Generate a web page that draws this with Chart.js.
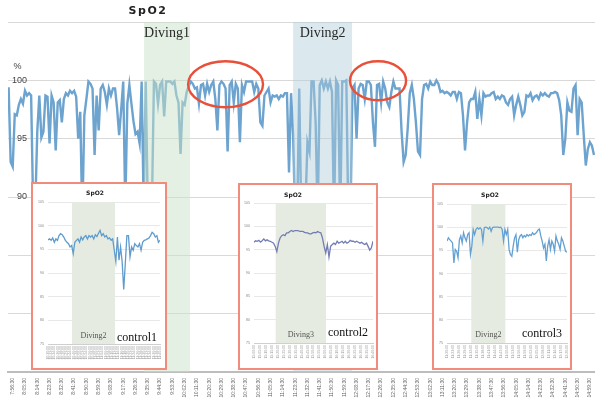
<!DOCTYPE html>
<html>
<head>
<meta charset="utf-8">
<script src="https://cdn.jsdelivr.net/npm/chart.js@4.4.1/dist/chart.umd.min.js"></script>
<style>
  html, body { margin: 0; padding: 0; background: #fff; }
  #wrap { position: relative; width: 595px; height: 399px; overflow: hidden; }
  #main { position: absolute; left: 0; top: 0; }
  .inset { position: absolute; border: 2px solid #f08c7c; background: #fff; box-sizing: border-box; }
  .inset canvas { position: absolute; left: 0; top: 0; }
</style>
</head>
<body>
<div id="wrap">
  <canvas id="main" width="595" height="399" style="width:595px;height:399px"></canvas>
  <div class="inset" style="left:31px;top:182px;width:136px;height:188px">
    <canvas id="ins1" width="132" height="184" style="width:132px;height:184px"></canvas>
  </div>
  <div class="inset" style="left:238px;top:183px;width:140px;height:187px">
    <canvas id="ins2" width="136" height="183" style="width:136px;height:183px"></canvas>
  </div>
  <div class="inset" style="left:432px;top:183px;width:140px;height:187px">
    <canvas id="ins3" width="136" height="183" style="width:136px;height:183px"></canvas>
  </div>
</div>
<script>
// main SpO2 trace, one reading every 1.5 min starting 7:53:30
const mainSpo2 = [
  99.4, 93.0, 92.6, 97.1, 97.0, 97.9, 98.4, 98.0, 99.1, 98.7,
  98.9, 98.7, 89, 89, 95.6, 98.7, 95.1, 95.6, 98.7, 98.6,
  94.6, 98.7, 98.1, 94.0, 98.1, 98.3, 96.4, 98.4, 98.9, 98.7,
  99.1, 98.9, 99.1, 98.6, 95.0, 97.3, 88, 97.0, 98.4, 99.9,
  99.7, 99.3, 93.6, 98.7, 95.7, 99.3, 99.6, 99.0, 97.9, 99.3,
  98.7, 99.3, 99.3, 97.6, 95.3,
  97.5, 99.9, 89, 98.0, 99.6, 98.0, 96.5, 95.4, 95.6, 94.6, 99.9, 89,
  99.9, 89, 89, 89, 99.9, 99.7, 98.0, 99.6, 99.9, 96.9,
  99.9, 99.9, 99.9, 99.7, 99.9, 98.7, 98.1, 93.7, 98.1, 97.9, 99.0, 99.5,
  99.9, 99.7, 99.3, 99.4, 98.0, 99.6, 99.7, 98.7, 99.7, 99.0,
  99.6, 99.9, 98.4, 95.7, 99.6, 99.9, 99.7, 99.3, 93.9, 99.6,
  99.9, 98.1, 99.7, 99.3, 94.7,
  99.6, 99.0, 99.9, 99.9, 99.9, 99.9, 99.0, 99.7, 99.3, 96.4,
  96.1, 98.7, 99.0, 99.3, 98.1, 98.7, 98.6, 98.7, 98.4, 98.7,
  98.6, 98.9, 98.9, 92.1, 98.9, 95.3, 88,
  88, 99.3, 88, 88, 89, 94.7, 93.9, 99.9, 99.9, 96.4,
  88, 99.6, 100, 99.3, 99.9, 99.3, 99.9, 99.0, 88, 100,
  99.6, 88, 99.9, 99.9, 100, 88, 88, 99.3, 99.6, 95.0,
  99.3, 99.7, 99.6, 98.4, 99.9, 99.9, 99.6, 96.4, 94.3, 99.6,
  99.7, 98.1, 99.9, 99.3, 98.1, 97.7, 99.0, 99.9, 99.3, 99.3,
  99.3, 95.6, 93.0, 93.6, 95.9, 98.9, 99.6, 98.4, 96.4, 93.9,
  93.6, 98.4, 99.6, 99.7, 99.3, 99.9, 99.6, 99.6, 100, 99.7,
  99.0, 99.1, 98.9, 99.0, 98.9, 98.7, 99.0, 99.0, 98.4, 99.0,
  98.9, 97.0, 94.0, 96.4, 98.1, 98.4, 98.4, 99.0,
  96.7, 98.4, 97.0, 98.9, 98.6, 98.7, 98.7, 98.9, 99.0, 98.4,
  98.6, 98.4, 98.7, 98.6, 98.1, 97.9, 98.4, 98.6, 97.0, 97.9,
  98.6, 97.9, 97.0, 97.3, 98.7, 98.6, 98.9, 98.3, 98.6, 98.7,
  98.4, 98.9, 98.7, 98.9, 98.7, 98.6, 98.9, 98.9, 99.0, 98.9,
  98.3, 97.0, 93.6, 95.0, 98.1, 97.4, 97.3, 99.3, 99.6, 95.3,
  98.4, 98.1, 95.3, 92.7, 94.1, 94.7, 94.4, 93.6
];
const mainTicks = ['7:56:30', '8:05:30', '8:14:30', '8:23:30', '8:32:30', '8:41:30', '8:50:30', '8:59:30',
  '9:08:30', '9:17:30', '9:26:30', '9:35:30', '9:44:30', '9:53:30', '10:02:30', '10:11:30',
  '10:20:30', '10:29:30', '10:38:30', '10:47:30', '10:56:30', '11:05:30', '11:14:30', '11:23:30',
  '11:32:30', '11:41:30', '11:50:30', '11:59:30', '12:08:30', '12:17:30', '12:26:30', '12:35:30',
  '12:44:30', '12:53:30', '13:02:30', '13:11:30', '13:20:30', '13:29:30', '13:38:30', '13:47:30',
  '13:56:30', '14:05:30', '14:14:30', '14:23:30', '14:32:30', '14:41:30', '14:50:30', '14:59:30'];
const samplesPerTick = 6;
const firstTickSample = 2;

// dive periods (in sample index)
const divingNames = ['Diving1', 'Diving2'];
const divingFrom = [66.2, 139.0];
const divingTo = [88.6, 167.8];

// red circled stretches (sample index / % centre, half sizes)
const circledX = [106, 180.5];
const circledY = [99.66, 99.96];
const circledHalfW = [18.3, 13.7];
const circledHalfH = [1.97, 1.67];

// control insets
const control1 = [97.0, 97.2, 96.9, 97.4, 96.5, 97.2, 96.9, 97.9, 98.3, 98.1,
  97.6, 96.9, 96.5, 96.2, 95.5, 95.8, 94.1, 96.5, 96.9, 97.2,
  96.5, 97.6, 97.0, 97.6, 97.9, 97.2, 97.9, 97.6, 97.9, 97.2,
  98.1, 97.7, 98.4, 99.0, 97.9, 98.3, 97.6, 97.9, 97.2, 97.4,
  96.9, 97.2, 94.8, 92.4, 97.6, 92.7, 95.5, 92.4, 86.5, 92.0,
  97.9, 97.9, 93.4, 95.5, 94.8, 96.2, 95.8, 95.5, 96.2, 94.8,
  96.5, 96.9, 97.0, 97.2, 97.4, 97.9, 98.6, 98.3, 97.6, 97.9,
  96.5, 96.9];
const control2 = [96.6, 96.9, 96.8, 97.0, 96.6, 96.9, 97.3, 96.9, 97.1, 96.9,
  96.8, 96.6, 96.4, 95.7, 94.6, 96.4, 97.5, 98.0, 98.2, 98.0,
  98.6, 98.6, 98.9, 99.1, 98.9, 99.1, 99.1, 99.1, 98.9, 98.9,
  98.9, 98.7, 98.6, 98.6, 98.4, 98.4, 98.6, 98.7, 98.6, 98.9,
  98.7, 98.6, 97.5, 95.7, 94.3, 96.1, 93.4, 95.7, 96.1, 96.4,
  96.1, 96.8, 96.4, 96.6, 96.8, 96.4, 96.8, 96.4, 96.6, 97.0,
  96.8, 96.8, 96.6, 96.8, 96.6, 96.4, 96.6, 96.3, 96.1, 96.4,
  95.7, 94.9, 95.4, 96.8];
const control3 = [97.0, 97.7, 97.3, 97.0, 96.6, 92.3, 95.2, 94.8, 93.4, 97.3,
  98.1, 96.6, 98.8, 97.7, 97.0, 98.4, 98.8, 94.1, 95.9, 99.5,
  98.4, 99.5, 99.9, 99.6, 99.9, 99.5, 97.0, 99.9, 100, 99.9,
  99.6, 100, 99.1, 99.9, 100, 100, 100, 100, 99.9, 100,
  99.5, 97.0, 99.5, 98.4, 99.5, 95.2, 94.1, 93.7, 95.9, 97.7,
  98.4, 94.6, 97.3, 98.1, 98.4, 97.7, 98.2, 97.9, 98.4, 98.1,
  98.4, 98.2, 98.8, 98.4, 98.6, 98.9, 99.4, 99.6, 98.1, 97.0,
  95.5, 96.3, 92.7, 95.9, 97.3, 95.2, 97.0, 96.3, 94.8, 98.1,
  97.0, 96.3, 95.2, 97.7, 97.0, 95.9, 94.8, 94.6];
const control1Ticks = ['10:30:00', '10:32:00', '10:34:00', '10:36:00', '10:38:00', '10:40:00', '10:42:00', '10:44:00', '10:46:00',
  '10:48:00', '10:50:00', '10:52:00', '10:54:00', '10:56:00', '10:58:00', '11:00:00', '11:02:00', '11:04:00',
  '11:06:00', '11:08:00', '11:10:00', '11:12:00', '11:14:00', '11:16:00', '11:18:00', '11:20:00', '11:22:00',
  '11:24:00', '11:26:00', '11:28:00', '11:30:00', '11:32:00', '11:34:00', '11:36:00', '11:38:00', '11:40:00'];
const control2Ticks = ['15:00:00', '15:05:00', '15:10:00', '15:15:00', '15:20:00', '15:25:00', '15:30:00', '15:35:00',
  '15:40:00', '15:45:00', '15:50:00', '15:55:00', '16:00:00', '16:05:00', '16:10:00', '16:15:00', '16:20:00',
  '16:25:00', '16:30:00', '16:35:00', '16:40:00'];
const control3Ticks = ['11:20:00', '11:23:00', '11:26:00', '11:29:00', '11:32:00', '11:35:00', '11:38:00', '11:41:00',
  '11:44:00', '11:47:00', '11:50:00', '11:53:00', '11:56:00', '11:59:00', '12:02:00', '12:05:00', '12:08:00',
  '12:11:00', '12:14:00', '12:17:00', '12:20:00'];
// dive period inside each inset (sample index)
const control1Dive = [15.2, 42.5];
const control2Dive = [13.3, 44.2];
const control3Dive = [17.6, 42.3];

const mainMarks = {
  id: 'mainMarks',
  afterDatasetsDraw(chart) {
    const { ctx, chartArea: a, scales: { x, y } } = chart;
    const shades = ['rgba(200,225,200,0.5)', 'rgba(175,205,215,0.45)'];
    ctx.save();
    divingNames.forEach((name, i) => {
      const x0 = x.getPixelForValue(divingFrom[i]);
      const x1 = x.getPixelForValue(divingTo[i]);
      ctx.fillStyle = shades[i];
      ctx.fillRect(x0, a.top, x1 - x0, a.bottom - a.top);
      ctx.fillStyle = '#2a2a2a';
      ctx.font = '14px "Liberation Serif"';
      ctx.textAlign = 'center';
      ctx.textBaseline = 'middle';
      ctx.fillText(name, (x0 + x1) / 2, a.top + 11);
    });
    ctx.strokeStyle = '#e8503a';
    ctx.lineWidth = 2.4;
    circledX.forEach((cx, i) => {
      const px = x.getPixelForValue(cx);
      const py = y.getPixelForValue(circledY[i]);
      const rx = x.getPixelForValue(cx + circledHalfW[i]) - px;
      const ry = py - y.getPixelForValue(circledY[i] + circledHalfH[i]);
      ctx.beginPath();
      ctx.ellipse(px, py, rx, ry, 0, 0, Math.PI * 2);
      ctx.stroke();
    });
    ctx.restore();
  },
  afterDraw(chart) {
    const ctx = chart.ctx;
    ctx.save();
    ctx.fillStyle = '#222';
    ctx.font = 'bold 11px "DejaVu Sans"';
    ctx.letterSpacing = '1.5px';
    ctx.textAlign = 'center';
    ctx.textBaseline = 'middle';
    ctx.fillText('SpO2', 148, 11);
    ctx.letterSpacing = '0px';
    ctx.font = '9px "Liberation Sans"';
    ctx.fillStyle = '#444';
    ctx.fillText('%', 17.5, 67);
    ctx.restore();
  }
};

new Chart(document.getElementById('main'), {
  type: 'line',
  data: {
    datasets: [{
      data: mainSpo2.map((v, i) => ({ x: i, y: v })),
      borderColor: 'rgb(108,163,207)',
      borderWidth: 2.4,
      pointRadius: 0,
      tension: 0
    }]
  },
  options: {
    responsive: false,
    animation: false,
    events: [],
    layout: { padding: { top: 22, left: 0, right: 0, bottom: 0 } },
    plugins: { legend: { display: false }, tooltip: { enabled: false } },
    scales: {
      x: {
        type: 'linear',
        min: -0.3,
        max: 286.5,
        grid: { display: false, drawTicks: false },
        border: { color: '#bdbdbd', width: 2, dash: [2, 1] },
        afterBuildTicks: s => {
          s.ticks = mainTicks.map((t, i) => ({ value: firstTickSample + i * samplesPerTick }));
        },
        ticks: {
          autoSkip: false,
          minRotation: 90,
          maxRotation: 90,
          padding: 6,
          color: '#666',
          font: { size: 5, family: 'Liberation Sans' },
          callback: (v, i) => mainTicks[i]
        },
        afterFit: s => { s.height = 27; s.paddingLeft = 0; s.paddingRight = 0; }
      },
      y: {
        min: 75,
        max: 105,
        grid: { color: '#d9d9d9', lineWidth: 1, drawTicks: false },
        border: { display: false },
        ticks: {
          stepSize: 5,
          mirror: true,
          crossAlign: 'far',
          padding: 4,
          color: '#444',
          font: { size: 9, family: 'Liberation Sans' },
          callback: v => (v >= 90 && v <= 100 ? String(v) : '')
        },
        afterFit: s => { s.width = 8; s.paddingTop = 0; s.paddingBottom = 0; }
      }
    }
  },
  plugins: [mainMarks]
});

const insetMarks = {
  id: 'insetMarks',
  beforeDatasetsDraw(chart, args, o) {
    const { ctx, chartArea: a, scales: { x } } = chart;
    const x0 = x.getPixelForValue(o.dive[0]);
    const x1 = x.getPixelForValue(o.dive[1]);
    ctx.save();
    ctx.fillStyle = '#e6ebe1';
    ctx.fillRect(x0, a.top, x1 - x0, a.bottom - a.top);
    ctx.restore();
  },
  afterDatasetsDraw(chart, args, o) {
    const { ctx, chartArea: a, scales: { x } } = chart;
    const x0 = x.getPixelForValue(o.dive[0]);
    const x1 = x.getPixelForValue(o.dive[1]);
    ctx.save();
    ctx.textAlign = 'center';
    ctx.textBaseline = 'middle';
    ctx.fillStyle = '#555';
    ctx.font = '8px "Liberation Serif"';
    ctx.fillText(o.diveName, (x0 + x1) / 2, a.bottom - 8);
    ctx.fillStyle = '#111';
    ctx.font = '12px "Liberation Serif"';
    ctx.fillText(o.controlName, o.controlX, a.bottom + o.controlDy);
    ctx.fillStyle = '#222';
    ctx.font = 'bold 6px "DejaVu Sans"';
    ctx.fillText('SpO2', o.titleX, o.titleY);
    ctx.restore();
  }
};

function insetChart(id, values, ticks, marks, color, pad) {
  const n = values.length;
  return new Chart(document.getElementById(id), {
    type: 'line',
    data: {
      datasets: [{
        data: values.map((v, i) => ({ x: i, y: v })),
        borderColor: color,
        borderWidth: 1.3,
        pointRadius: 0,
        tension: 0
      }]
    },
    options: {
      responsive: false,
      animation: false,
      events: [],
      layout: { padding: { top: pad.top, right: pad.right, left: 0, bottom: 0 } },
      plugins: { legend: { display: false }, tooltip: { enabled: false }, insetMarks: marks },
      scales: {
        x: {
          type: 'linear',
          min: 0,
          max: n - 1,
          grid: { display: false, drawTicks: false },
          border: { color: '#cfcfcf', width: 1, dash: [1, 1] },
          afterBuildTicks: s => {
            s.ticks = ticks.map((t, i) => ({ value: i * (n - 1) / (ticks.length - 1) }));
          },
          ticks: {
            autoSkip: false,
            minRotation: 90,
            maxRotation: 90,
            padding: 2,
            color: '#999',
            font: { size: 3.5, family: 'Liberation Sans' },
            callback: (v, i) => ticks[i]
          },
          afterFit: s => { s.height = pad.bottom; s.paddingLeft = 0; s.paddingRight = 0; }
        },
        y: {
          min: 75,
          max: 105,
          grid: { color: '#dedede', lineWidth: 0.7, drawTicks: false },
          border: { display: false },
          ticks: { stepSize: 5, padding: 4, color: '#888', font: { size: 3.6, family: 'Liberation Sans' } },
          afterFit: s => { s.width = pad.left; s.paddingTop = 0; s.paddingBottom = 0; }
        }
      }
    },
    plugins: [insetMarks]
  });
}

insetChart('ins1', control1, control1Ticks,
  { dive: control1Dive, diveName: 'Diving2', controlName: 'control1', controlX: 104, controlDy: -6, titleX: 62, titleY: 9 },
  'rgb(95,155,205)', { left: 15, right: 5, top: 18, bottom: 24 });
insetChart('ins2', control2, control2Ticks,
  { dive: control2Dive, diveName: 'Diving3', controlName: 'control2', controlX: 108, controlDy: -10, titleX: 53, titleY: 10 },
  'rgb(115,125,180)', { left: 14, right: 3, top: 18, bottom: 25 });
insetChart('ins3', control3, control3Ticks,
  { dive: control3Dive, diveName: 'Diving2', controlName: 'control3', controlX: 108, controlDy: -9, titleX: 56, titleY: 10 },
  'rgb(100,160,210)', { left: 13, right: 3, top: 19, bottom: 25 });
</script>
</body>
</html>
